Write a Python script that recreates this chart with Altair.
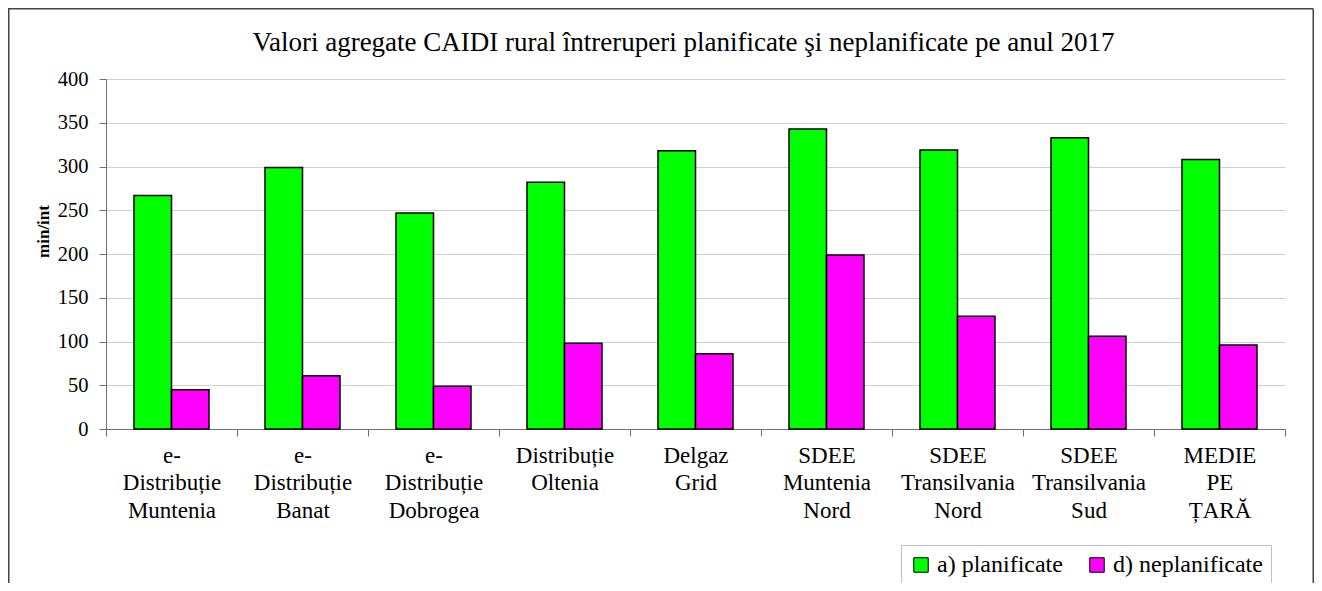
import altair as alt
import pandas as pd

categories = [
    "e-|Distribuție|Muntenia",
    "e-|Distribuție|Banat",
    "e-|Distribuție|Dobrogea",
    "Distribuție|Oltenia",
    "Delgaz|Grid",
    "SDEE|Muntenia|Nord",
    "SDEE|Transilvania|Nord",
    "SDEE|Transilvania|Sud",
    "MEDIE|PE|ȚARĂ",
]
series = ["a) planificate", "d) neplanificate"]
planificate = [267, 299, 247, 282, 318, 343, 319, 333, 308]
neplanificate = [45, 61, 49, 98, 86, 199, 129, 106, 96]
colors = ["#00FF00", "#FF00FF"]
y_ticks = [0, 50, 100, 150, 200, 250, 300, 350, 400]
title_text = "Valori agregate CAIDI rural întreruperi planificate şi neplanificate pe anul 2017"
y_title = "min/int"

rows = []
for c, p, n in zip(categories, planificate, neplanificate):
    rows.append({"cat": c, "serie": series[0], "val": p})
    rows.append({"cat": c, "serie": series[1], "val": n})
df = pd.DataFrame(rows)

W, H = 1179, 350
PAD_L, PAD_T = 98, 71
TOTAL_W, TOTAL_H = 1306, 575
FONT = "Liberation Serif"

x_enc = alt.X(
    "cat:N",
    sort=categories,
    title=None,
    scale=alt.Scale(paddingInner=0, paddingOuter=0),
    axis=alt.Axis(
        labelExpr="split(datum.label, '|')",
        labelAngle=0,
        labelFont=FONT,
        labelFontSize=23,
        labelLineHeight=27.5,
        labelColor="black",
        labelPadding=8,
        labelLimit=300,
        tickBand="extent",
        tickSize=7,
        tickColor="#707070",
        domainColor="#707070",
        grid=False,
    ),
)

bars = alt.Chart(df).mark_bar(stroke="black", strokeWidth=1.5, opacity=1).encode(
    x=x_enc,
    xOffset=alt.XOffset(
        "serie:N", sort=series,
        scale=alt.Scale(paddingOuter=0.747, paddingInner=0),
    ),
    y=alt.Y(
        "val:Q",
        scale=alt.Scale(domain=[0, 400], nice=False),
        axis=alt.Axis(
            values=y_ticks,
            title=y_title,
            titleFont=FONT,
            titleFontSize=17,
            titleFontWeight="bold",
            titleColor="black",
            titleAngle=-90,
            titleX=-63,
            titleY=152,
            titleAlign="center",
            titleBaseline="middle",
            labelFont=FONT,
            labelFontSize=20.5,
            labelColor="black",
            labelPadding=11,
            tickSize=7,
            tickColor="#707070",
            domainColor="#707070",
            gridColor="#cfcfcf",
            gridWidth=1,
        ),
    ),
    color=alt.Color(
        "serie:N",
        scale=alt.Scale(domain=series, range=colors),
        legend=alt.Legend(
            title=None,
            orient="none",
            legendX=795,
            legendY=466,
            direction="horizontal",
            symbolType="square",
            symbolSize=210,
            symbolStrokeColor="black",
            symbolStrokeWidth=1,
            symbolOpacity=1,
            labelFont=FONT,
            labelFontSize=24,
            labelColor="black",
            labelOffset=4,
            columnPadding=22,
            padding=8,
            strokeColor="#c0c0c0",
            fillColor="white",
        ),
    ),
)

frame_df = pd.DataFrame({"k": [0]})
frame_left = alt.Chart(frame_df).mark_rule(color="#444444", strokeWidth=1.5).encode(
    x=alt.value(-PAD_L + 0.75), y=alt.value(-PAD_T + 0.75), y2=alt.value(TOTAL_H)
)
frame_top = alt.Chart(frame_df).mark_rule(color="#444444", strokeWidth=1.5).encode(
    x=alt.value(-PAD_L), x2=alt.value(TOTAL_W - PAD_L - 0.75), y=alt.value(-PAD_T + 0.75)
)
frame_right = alt.Chart(frame_df).mark_rule(color="#444444", strokeWidth=1.5).encode(
    x=alt.value(TOTAL_W - PAD_L - 0.75), y=alt.value(-PAD_T + 0.75), y2=alt.value(TOTAL_H)
)

chart = alt.layer(bars, frame_left, frame_top, frame_right).properties(
    width=W,
    height=H,
    title=alt.TitleParams(
        text=title_text,
        font=FONT,
        fontSize=27,
        fontWeight="normal",
        color="black",
        anchor="middle",
        dx=-12,
        dy=71,
        offset=22,
    ),
    padding={"left": PAD_L, "top": PAD_T, "right": TOTAL_W - PAD_L - W, "bottom": TOTAL_H - PAD_T - H},
    autosize=alt.AutoSizeParams(type="none"),
    background="white",
).configure_view(strokeWidth=0)

chart.save("out.html", embed_options={"renderer": "svg", "actions": False})
